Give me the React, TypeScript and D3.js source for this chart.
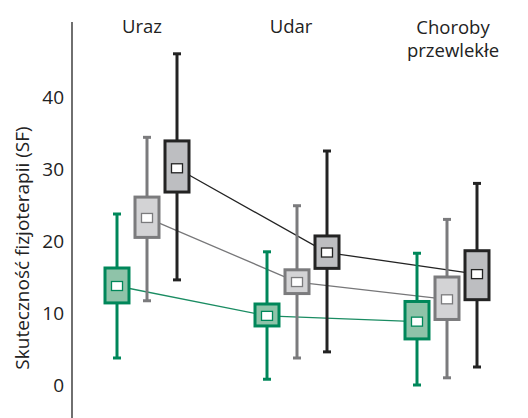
import * as d3 from 'd3';

const categories = ['Uraz', 'Udar', 'Choroby przewlekłe'];
const seriesKeys = ['green', 'light', 'dark'];

// per series, per category: [min, q1, mean, q3, max]
const greenStats = [
  [3.75, 11.4, 13.75, 16.25, 23.75],
  [0.8, 8.2, 9.6, 11.25, 18.5],
  [0, 6.4, 8.8, 11.6, 18.3],
];
const lightStats = [
  [11.7, 20.5, 23.2, 26.1, 34.4],
  [3.75, 12.7, 14.3, 16.0, 24.9],
  [1.0, 9.1, 11.9, 15.0, 23.0],
];
const darkStats = [
  [14.6, 26.8, 30.1, 33.9, 46.0],
  [4.6, 16.2, 18.4, 20.7, 32.5],
  [2.5, 11.85, 15.4, 18.65, 28.0],
];
const yTicks = [0, 10, 20, 30, 40];

const styles: Record<string, { stroke: string; fill: string; line: string }> = {
  green: { stroke: '#00875a', fill: '#8fc3a9', line: '#1a8c62' },
  light: { stroke: '#7b7b7d', fill: '#d3d3d5', line: '#777779' },
  dark: { stroke: '#232323', fill: '#bdbec1', line: '#232323' },
};

const W = 528;
const H = 418;
const font = '"Open Sans", "Noto Sans", sans-serif';

export default function App() {
  const y = d3.scaleLinear().domain([0, 40]).range([385, 97]);
  const x = d3.scaleBand<string>().domain(categories).range([72, 522]);
  const inner = d3.scaleBand<string>().domain(seriesKeys).range([-45, 45]);

  const data: Record<string, number[][]> = { green: greenStats, light: lightStats, dark: darkStats };
  const cx = (cat: string, key: string) =>
    (x(cat) as number) + x.bandwidth() / 2 + (inner(key) as number) + inner.bandwidth() / 2;

  const boxW = 24;
  const capW = 8;
  const line = d3.line<[number, number]>();

  return (
    <svg width={W} height={H} style={{ position: 'absolute', left: 0, top: 0, background: '#fff' }}>
      {/* y axis */}
      <line x1={72} x2={72} y1={22} y2={H} stroke="#222" strokeWidth={1.3} />
      {yTicks.map((t) => (
        <text key={t} x={64} y={y(t)} dy="0.36em" textAnchor="end" fontSize={19} fontFamily={font} fill="#222">
          {t}
        </text>
      ))}
      <text
        transform={`translate(29, 248) rotate(-90)`}
        textAnchor="middle"
        fontSize={19}
        fontFamily={font}
        fill="#222"
      >
        Skuteczność fizjoterapii (SF)
      </text>

      {/* category labels */}
      <text x={142} y={33} textAnchor="middle" fontSize={18.5} fontFamily={font} fill="#222">Uraz</text>
      <text x={291} y={33} textAnchor="middle" fontSize={18.5} fontFamily={font} fill="#222">Udar</text>
      <text x={453} y={34} textAnchor="middle" fontSize={18.5} fontFamily={font} fill="#222">Choroby</text>
      <text x={453} y={57} textAnchor="middle" fontSize={18.5} fontFamily={font} fill="#222">przewlekłe</text>

      {/* connecting lines */}
      {seriesKeys.map((k) => (
        <path
          key={k}
          d={line(categories.map((c, i) => [cx(c, k), y(data[k][i][2])])) as string}
          fill="none"
          stroke={styles[k].line}
          strokeWidth={1.3}
        />
      ))}

      {/* boxes */}
      {categories.map((c, i) =>
        seriesKeys.map((k) => {
          const [mn, q1, mean, q3, mx] = data[k][i];
          const px = cx(c, k);
          const s = styles[k];
          return (
            <g key={c + k}>
              <line x1={px} x2={px} y1={y(mn)} y2={y(mx)} stroke={s.stroke} strokeWidth={3} />
              <line x1={px - capW / 2} x2={px + capW / 2} y1={y(mx)} y2={y(mx)} stroke={s.stroke} strokeWidth={3} />
              <line x1={px - capW / 2} x2={px + capW / 2} y1={y(mn)} y2={y(mn)} stroke={s.stroke} strokeWidth={3} />
              <rect
                x={px - boxW / 2}
                y={y(q3)}
                width={boxW}
                height={y(q1) - y(q3)}
                fill={s.fill}
                stroke={s.stroke}
                strokeWidth={3}
              />
              <rect
                x={px - 5.5}
                y={y(mean) - 4.5}
                width={11}
                height={9}
                fill="#fff"
                stroke={s.stroke}
                strokeWidth={1.3}
              />
            </g>
          );
        })
      )}
    </svg>
  );
}
